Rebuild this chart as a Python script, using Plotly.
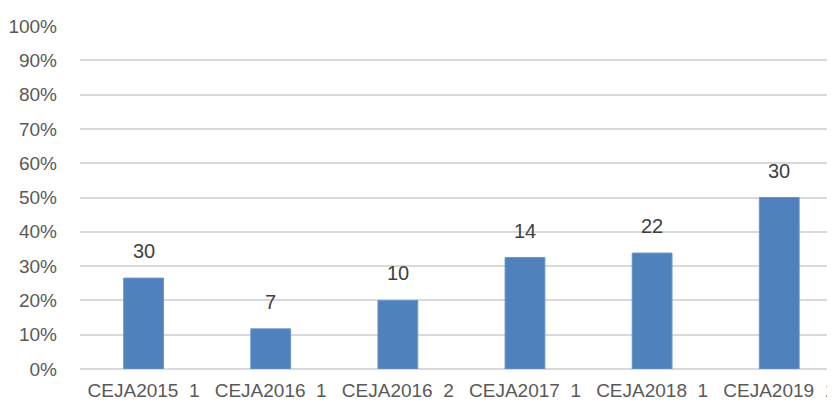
import plotly.graph_objects as go

# categories (two spaces kept with nbsp, as in the original axis)
categories = ["CEJA2015\u00a0\u00a01", "CEJA2016\u00a0\u00a01", "CEJA2016\u00a0\u00a02",
              "CEJA2017\u00a0\u00a01", "CEJA2018\u00a0\u00a01", "CEJA2019\u00a0\u00a01"]
# share of each group (bar height)
share = [0.265, 0.117, 0.200, 0.325, 0.338, 0.500]
# counts shown above the bars
counts = [30, 7, 10, 14, 22, 30]

FONT = "Liberation Sans, Arial, sans-serif"

fig = go.Figure()
fig.add_trace(go.Bar(x=categories, y=share,
                     marker=dict(color="#4f81bd", line=dict(color="#6a95c9", width=1)),
                     hoverinfo="skip"))

# data labels sit a bit above each bar
for c, v, n in zip(categories, share, counts):
    fig.add_annotation(x=c, y=v, text=str(n), showarrow=False, yanchor="bottom", yshift=14,
                       font=dict(family=FONT, size=20, color="#404040"))

# page body has an 8px margin, so the figure is a bit smaller than the window
fig.update_layout(
    width=827, height=399,
    margin=dict(l=72, r=0, t=18, b=38),
    paper_bgcolor="white", plot_bgcolor="white",
    bargap=0.687, showlegend=False,
    font=dict(family=FONT, size=19, color="#595959"),
)
fig.update_yaxes(range=[0, 1.0001], dtick=0.1, tickformat=".0%", showgrid=True,
                 gridcolor="#d9d9d9", gridwidth=1.5, zeroline=True, zerolinecolor="#d9d9d9",
                 zerolinewidth=1.5, showline=False, ticks="", ticklabelstandoff=22)
fig.update_xaxes(range=[-0.5, 5.407], showgrid=False, showline=False, ticks="",
                 ticklabelstandoff=8, tickangle=0)

fig.write_html("out.html")
